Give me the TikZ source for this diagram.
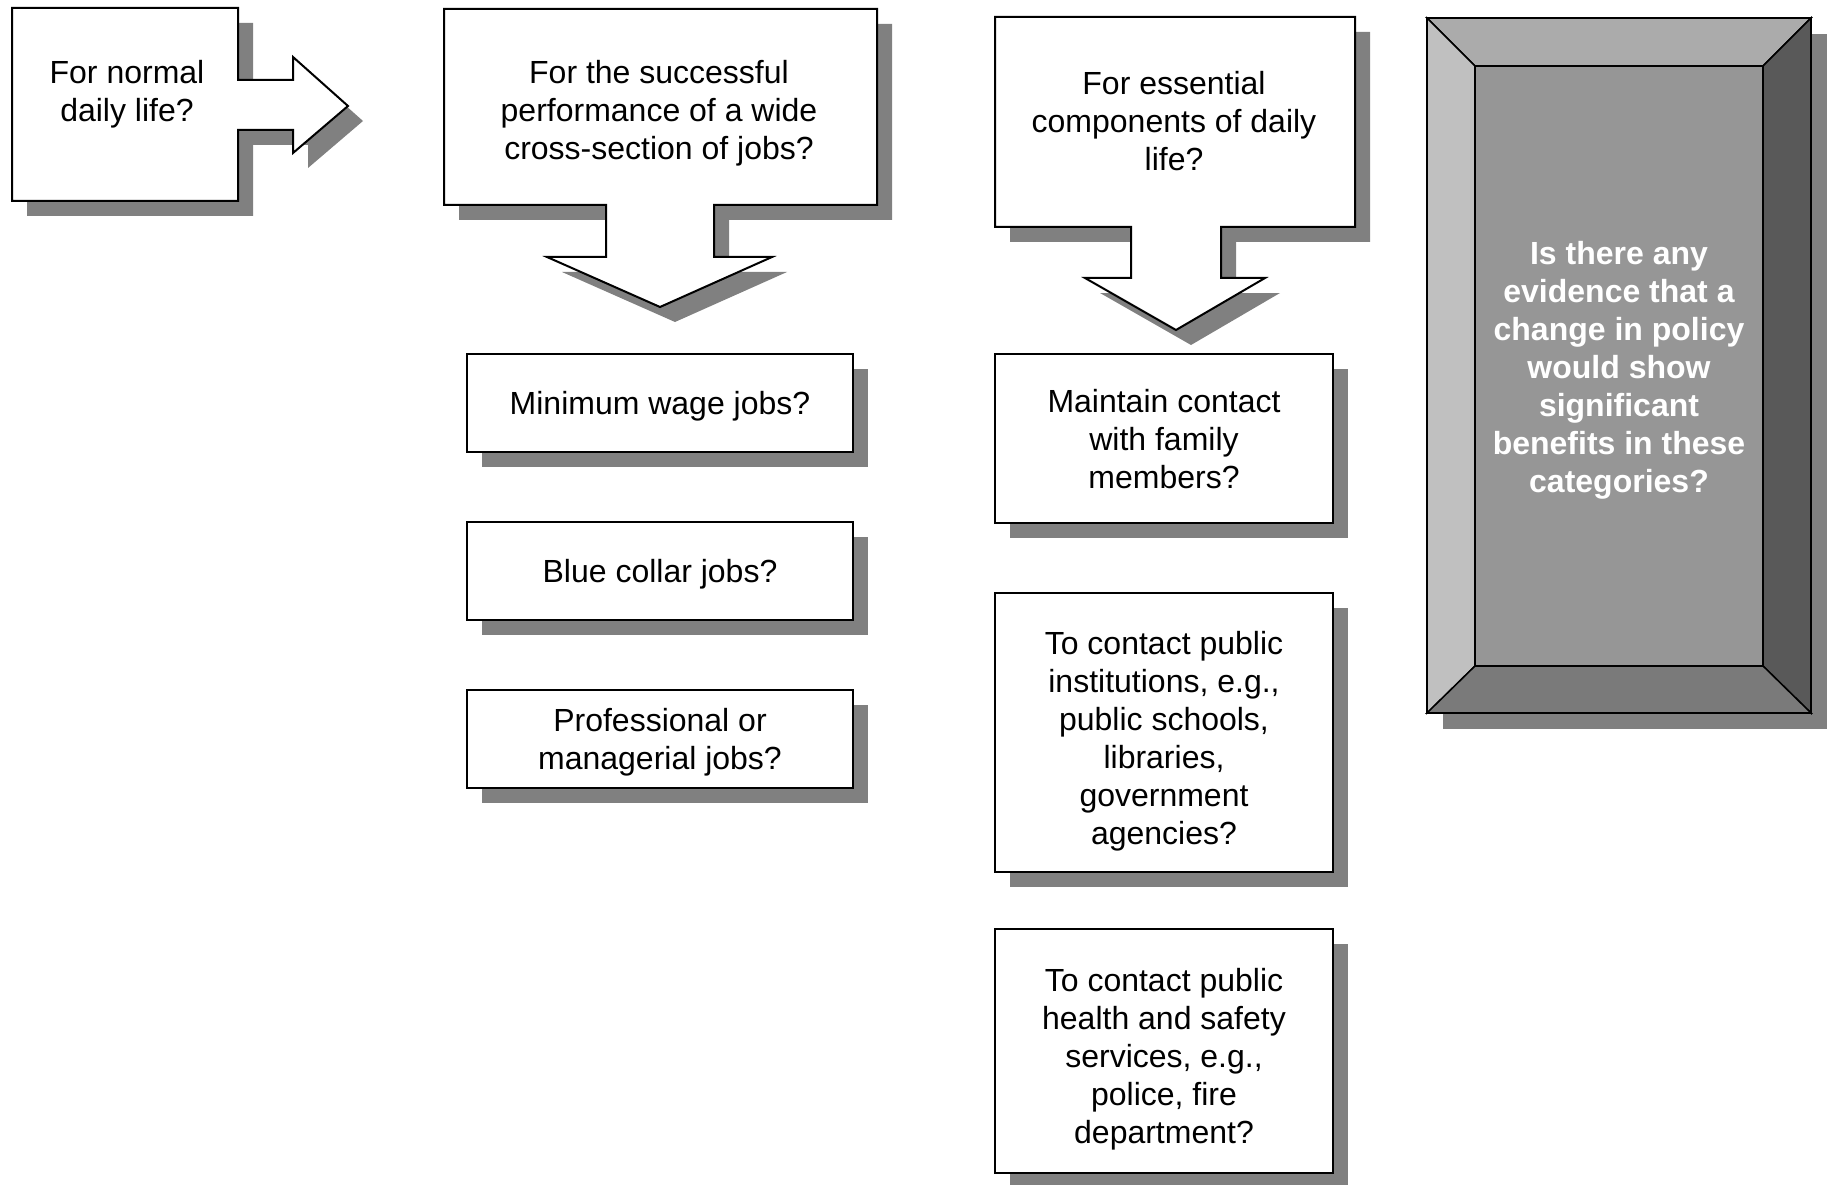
\documentclass[tikz,border=0pt]{standalone}
\usepackage{fontspec}
\setmainfont{Liberation Sans}
\usepackage{tikz}
\usetikzlibrary{shadows}
\definecolor{shadowgray}{HTML}{808080}
\definecolor{bevtop}{HTML}{ABABAB}
\definecolor{bevleft}{HTML}{C0C0C0}
\definecolor{bevright}{HTML}{595959}
\definecolor{bevbottom}{HTML}{7A7A7A}
\definecolor{bevface}{HTML}{969696}
\newcommand{\qfont}{\fontsize{32}{38}\selectfont}
\tikzstyle{callout}=[draw, line width=2pt, fill=white, line join=miter, drop shadow={shadow xshift=15pt, shadow yshift=-15pt, fill=shadowgray, opacity=1}]
\tikzstyle{qbox}=[callout, rectangle, inner sep=0pt]
\tikzstyle{qtext}=[align=center, font=\qfont]
\tikzstyle{bevel}=[draw, line width=1.5pt, line join=miter]

\begin{document}
\begin{tikzpicture}[x=1pt, y=-1pt]
\useasboundingbox (0,0) rectangle (1832,1185);

% callouts with arrows
\path[callout] (12,8) -- (238,8) -- (238,80) -- (293,80) -- (293,57) -- (348,106) -- (293,153) -- (293,130) -- (238,130) -- (238,201) -- (12,201) -- cycle;
\node[qtext] (normal) at (127,94.5) {For normal\\daily life?};

\path[callout] (444,9) -- (877,9) -- (877,205) -- (714,205) -- (714,257) -- (772,257) -- (660,307) -- (547,257) -- (606,257) -- (606,205) -- (444,205) -- cycle;
\node[qtext] (jobs) at (659,113.5) {For the successful\\performance of a wide\\cross-section of jobs?};

\path[callout] (995,17) -- (1355,17) -- (1355,227) -- (1221,227) -- (1221,278) -- (1265,278) -- (1176,330) -- (1085,278) -- (1131,278) -- (1131,227) -- (995,227) -- cycle;
\node[qtext] (essential) at (1174,121) {For essential\\components of daily\\life?};

% job boxes
\node[qbox, minimum width=386pt, minimum height=98pt] (minwage) at (660,403) {};
\node[qbox, minimum width=386pt, minimum height=98pt] (bluecollar) at (660,571) {};
\node[qbox, minimum width=386pt, minimum height=98pt] (profman) at (660,739) {};
\node[qtext] (minwagetxt) at (660,406.5) {Minimum wage jobs?};
\node[qtext] (bluecollartxt) at (660,574.5) {Blue collar jobs?};
\node[qtext] (profmantxt) at (660,742) {Professional or\\managerial jobs?};

% daily life boxes
\node[qbox, minimum width=338pt, minimum height=169pt] (family) at (1164,438) {};
\node[qbox, minimum width=338pt, minimum height=279pt] (institutions) at (1164,732.5) {};
\node[qbox, minimum width=338pt, minimum height=244pt] (safety) at (1164,1051) {};
\node[qtext] (familytxt) at (1164,439) {Maintain contact\\with family\\members?};
\node[qtext] (institutionstxt) at (1164,741) {To contact public\\institutions, e.g.,\\public schools,\\libraries,\\government\\agencies?};
\node[qtext] (safetytxt) at (1164,1059) {To contact public\\health and safety\\services, e.g.,\\police, fire\\department?};

% bevelled frame
\fill[shadowgray] (1443,34) rectangle (1827,729);
\filldraw[bevel, fill=bevtop] (1427,18) -- (1811,18) -- (1763,66) -- (1475,66) -- cycle;
\filldraw[bevel, fill=bevleft] (1427,18) -- (1475,66) -- (1475,666) -- (1427,713) -- cycle;
\filldraw[bevel, fill=bevright] (1811,18) -- (1811,713) -- (1763,666) -- (1763,66) -- cycle;
\filldraw[bevel, fill=bevbottom] (1427,713) -- (1475,666) -- (1763,666) -- (1811,713) -- cycle;
\filldraw[bevel, fill=bevface] (1475,66) rectangle (1763,666);
\draw[bevel, line width=2pt] (1427,18) rectangle (1811,713);
\node[qtext, text=white, font=\qfont\bfseries] (evidence) at (1619,370) {Is there any\\evidence that a\\change in policy\\would show\\significant\\benefits in these\\categories?};
\end{tikzpicture}
\end{document}
